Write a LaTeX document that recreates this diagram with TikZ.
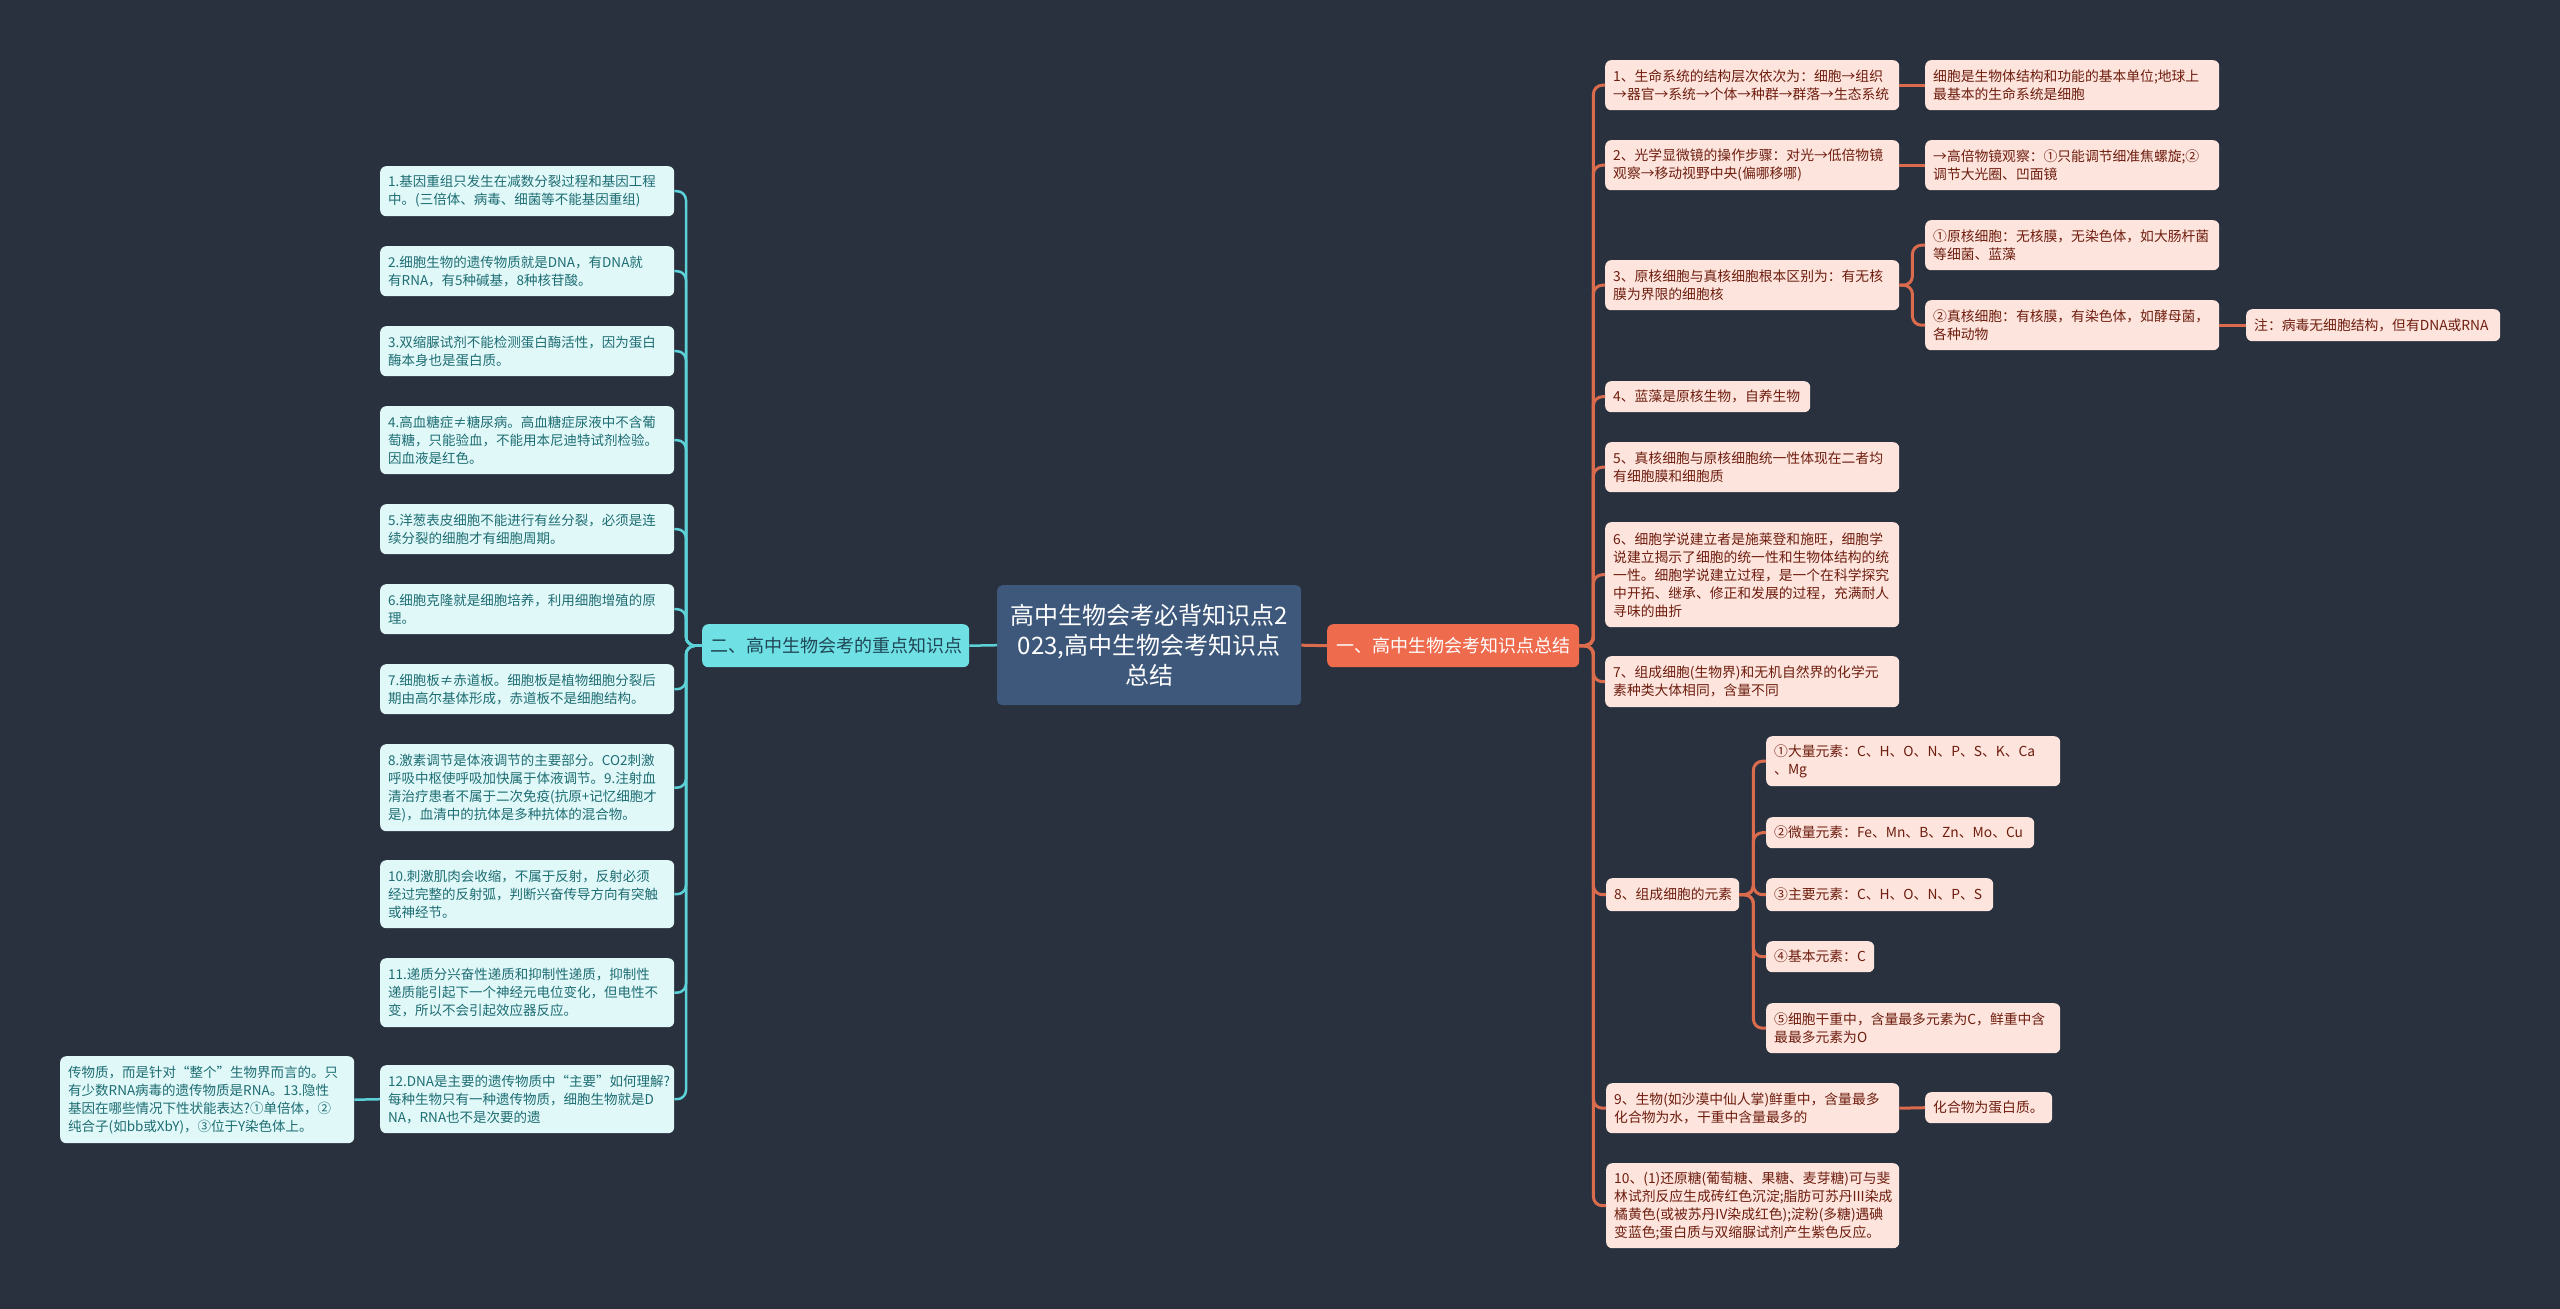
\documentclass[tikz,border=0pt]{standalone}
\usepackage{fontspec}
\setmainfont{Noto Sans CJK SC}
\definecolor{bg}{HTML}{29313F}
\definecolor{centerfill}{HTML}{3E587C}
\definecolor{rbfill}{HTML}{EE6B4D}
\definecolor{lbfill}{HTML}{6FE0E4}
\definecolor{lbtext}{HTML}{1F4656}
\definecolor{lleaf}{HTML}{E1F8F9}
\definecolor{lleaftext}{HTML}{1D6D72}
\definecolor{rleaf}{HTML}{FDE5DE}
\definecolor{rleaftext}{HTML}{6E1D0E}
\definecolor{rline}{HTML}{DB6B4D}
\definecolor{lline}{HTML}{5CD2D8}
\tikzset{
  box/.style={anchor=north west, rounded corners=6pt, inner xsep=8pt, inner ysep=0pt, align=left},
  lleafbox/.style={box, fill=lleaf, text=lleaftext, font=\fontsize{13.5}{18}\selectfont},
  rleafbox/.style={box, fill=rleaf, text=rleaftext, font=\fontsize{13.8}{18}\selectfont},
  rconn/.style={draw=rline, line width=3pt, rounded corners=9pt},
  lconn/.style={draw=lline, line width=2.5pt, rounded corners=9pt},
}
\begin{document}
\begin{tikzpicture}[x=1pt,y=-1pt]
\useasboundingbox (0,0) rectangle (2560,1309);
\fill[bg] (0,0) rectangle (2560,1309);

% center and branches
\node[anchor=north west, rounded corners=5pt, fill=centerfill, text=white, align=center,
  text width=288pt, inner xsep=8pt, inner ysep=0pt, minimum height=120pt,
  font=\fontsize{24}{30}\selectfont] (c) at (997,585)
  {高中生物会考必背知识点2\\023,高中生物会考知识点\\总结};
\node[anchor=north west, rounded corners=6pt, fill=rbfill, text=white, align=center,
  text width=236pt, inner xsep=8pt, inner ysep=0pt, minimum height=43pt,
  font=\fontsize{18}{22}\selectfont] (rb) at (1327,624) {一、高中生物会考知识点总结};
\node[anchor=north west, rounded corners=6pt, fill=lbfill, text=lbtext, align=center,
  text width=251pt, inner xsep=8pt, inner ysep=0pt, minimum height=43pt,
  font=\fontsize{18}{22}\selectfont] (lb) at (702,624) {二、高中生物会考的重点知识点};

% left leaves
\node[lleafbox, text width=278pt, minimum height=50pt] (l1) at (380,166)
  {1.基因重组只发生在减数分裂过程和基因工程\\中。(三倍体、病毒、细菌等不能基因重组)};
\node[lleafbox, text width=278pt, minimum height=50pt] (l2) at (380,246)
  {2.细胞生物的遗传物质就是DNA，有DNA就\\有RNA，有5种碱基，8种核苷酸。};
\node[lleafbox, text width=278pt, minimum height=50pt] (l3) at (380,326)
  {3.双缩脲试剂不能检测蛋白酶活性，因为蛋白\\酶本身也是蛋白质。};
\node[lleafbox, text width=278pt, minimum height=68pt] (l4) at (380,406)
  {4.高血糖症≠糖尿病。高血糖症尿液中不含葡\\萄糖，只能验血，不能用本尼迪特试剂检验。\\因血液是红色。};
\node[lleafbox, text width=278pt, minimum height=50pt] (l5) at (380,504)
  {5.洋葱表皮细胞不能进行有丝分裂，必须是连\\续分裂的细胞才有细胞周期。};
\node[lleafbox, text width=278pt, minimum height=50pt] (l6) at (380,584)
  {6.细胞克隆就是细胞培养，利用细胞增殖的原\\理。};
\node[lleafbox, text width=278pt, minimum height=50pt] (l7) at (380,664)
  {7.细胞板≠赤道板。细胞板是植物细胞分裂后\\期由高尔基体形成，赤道板不是细胞结构。};
\node[lleafbox, text width=278pt, minimum height=87pt] (l8) at (380,744)
  {8.激素调节是体液调节的主要部分。CO2刺激\\呼吸中枢使呼吸加快属于体液调节。9.注射血\\清治疗患者不属于二次免疫(抗原+记忆细胞才\\是)，血清中的抗体是多种抗体的混合物。};
\node[lleafbox, text width=278pt, minimum height=68pt] (l10) at (380,860)
  {10.刺激肌肉会收缩，不属于反射，反射必须\\经过完整的反射弧，判断兴奋传导方向有突触\\或神经节。};
\node[lleafbox, text width=278pt, minimum height=69pt] (l11) at (380,958)
  {11.递质分兴奋性递质和抑制性递质，抑制性\\递质能引起下一个神经元电位变化，但电性不\\变，所以不会引起效应器反应。};
\node[lleafbox, text width=278pt, minimum height=68pt] (l12) at (380,1065)
  {12.DNA是主要的遗传物质中“主要”如何理解?\\每种生物只有一种遗传物质，细胞生物就是D\\NA，RNA也不是次要的遗};
\node[lleafbox, text width=278pt, minimum height=87pt] (fl) at (60,1056)
  {传物质，而是针对“整个”生物界而言的。只\\有少数RNA病毒的遗传物质是RNA。13.隐性\\基因在哪些情况下性状能表达?①单倍体，②\\纯合子(如bb或XbY)，③位于Y染色体上。};

% right leaves
\node[rleafbox, text width=278pt, minimum height=50pt] (r1) at (1605,60)
  {1、生命系统的结构层次依次为：细胞→组织\\→器官→系统→个体→种群→群落→生态系统};
\node[rleafbox, text width=278pt, minimum height=50pt] (r1c) at (1925,60)
  {细胞是生物体结构和功能的基本单位;地球上\\最基本的生命系统是细胞};
\node[rleafbox, text width=278pt, minimum height=50pt] (r2) at (1605,140)
  {2、光学显微镜的操作步骤：对光→低倍物镜\\观察→移动视野中央(偏哪移哪)};
\node[rleafbox, text width=278pt, minimum height=50pt] (r2c) at (1925,140)
  {→高倍物镜观察：①只能调节细准焦螺旋;②\\调节大光圈、凹面镜};
\node[rleafbox, text width=278pt, minimum height=50pt] (r3) at (1605,260)
  {3、原核细胞与真核细胞根本区别为：有无核\\膜为界限的细胞核};
\node[rleafbox, text width=278pt, minimum height=50pt] (r3a) at (1925,220)
  {①原核细胞：无核膜，无染色体，如大肠杆菌\\等细菌、蓝藻};
\node[rleafbox, text width=278pt, minimum height=50pt] (r3b) at (1925,300)
  {②真核细胞：有核膜，有染色体，如酵母菌，\\各种动物};
\node[rleafbox, text width=238pt, minimum height=32pt] (note) at (2246,309)
  {注：病毒无细胞结构，但有DNA或RNA};
\node[rleafbox, text width=189pt, minimum height=31pt] (r4) at (1605,381)
  {4、蓝藻是原核生物，自养生物};
\node[rleafbox, text width=278pt, minimum height=50pt] (r5) at (1605,442)
  {5、真核细胞与原核细胞统一性体现在二者均\\有细胞膜和细胞质};
\node[rleafbox, text width=278pt, minimum height=105pt] (r6) at (1605,522)
  {6、细胞学说建立者是施莱登和施旺，细胞学\\说建立揭示了细胞的统一性和生物体结构的统\\一性。细胞学说建立过程，是一个在科学探究\\中开拓、继承、修正和发展的过程，充满耐人\\寻味的曲折};
\node[rleafbox, text width=278pt, minimum height=51pt] (r7) at (1605,656)
  {7、组成细胞(生物界)和无机自然界的化学元\\素种类大体相同，含量不同};
\node[rleafbox, text width=117pt, minimum height=33pt] (r8) at (1606,878)
  {8、组成细胞的元素};
\node[rleafbox, text width=278pt, minimum height=50pt] (r8a) at (1766,736)
  {①大量元素：C、H、O、N、P、S、K、Ca\\、Mg};
\node[rleafbox, text width=252pt, minimum height=31pt] (r8b) at (1766,817)
  {②微量元素：Fe、Mn、B、Zn、Mo、Cu};
\node[rleafbox, text width=211pt, minimum height=33pt] (r8c) at (1766,878)
  {③主要元素：C、H、O、N、P、S};
\node[rleafbox, text width=92pt, minimum height=31pt] (r8d) at (1766,941)
  {④基本元素：C};
\node[rleafbox, text width=278pt, minimum height=50pt] (r8e) at (1766,1003)
  {⑤细胞干重中，含量最多元素为C，鲜重中含\\最最多元素为O};
\node[rleafbox, text width=277pt, minimum height=50pt] (r9) at (1606,1083)
  {9、生物(如沙漠中仙人掌)鲜重中，含量最多\\化合物为水，干重中含量最多的};
\node[rleafbox, text width=111pt, minimum height=31pt] (r9c) at (1925,1092)
  {化合物为蛋白质。};
\node[rleafbox, text width=277pt, minimum height=85pt] (r10) at (1606,1163)
  {10、(1)还原糖(葡萄糖、果糖、麦芽糖)可与斐\\林试剂反应生成砖红色沉淀;脂肪可苏丹III染成\\橘黄色(或被苏丹IV染成红色);淀粉(多糖)遇碘\\变蓝色;蛋白质与双缩脲试剂产生紫色反应。};

% connectors centre
\draw[rline, line width=3pt] (c.east) -- (rb.west);
\draw[lline, line width=2.5pt] (c.west) -- (lb.east);

% right trunk
\foreach \n in {r1,r2,r3,r4,r5,r6,r7,r8,r9,r10}
  \path[rconn] (rb.east) -- ([xshift=14pt]rb.east) |- (\n.west);
% sub-branches
\draw[rline, line width=3pt] (r1.east) -- (r1c.west);
\draw[rline, line width=3pt] (r2.east) -- (r2c.west);
\foreach \n in {r3a,r3b}
  \path[rconn] (r3.east) -- ([xshift=13pt]r3.east) |- (\n.west);
\draw[rline, line width=3pt] (r3b.east) -- (note.west);
\foreach \n in {r8a,r8b,r8c,r8d,r8e}
  \path[rconn] (r8.east) -- ([xshift=14pt]r8.east) |- (\n.west);
\draw[rline, line width=3pt] (r9.east) -- (r9c.west);

% left trunk
\foreach \n in {l1,l2,l3,l4,l5,l6,l7,l8,l10,l11,l12}
  \path[lconn] (lb.west) -- ([xshift=-16pt]lb.west) |- (\n.east);
\draw[lline, line width=2.5pt] (l12.west) -- (fl.east);
\end{tikzpicture}
\end{document}
